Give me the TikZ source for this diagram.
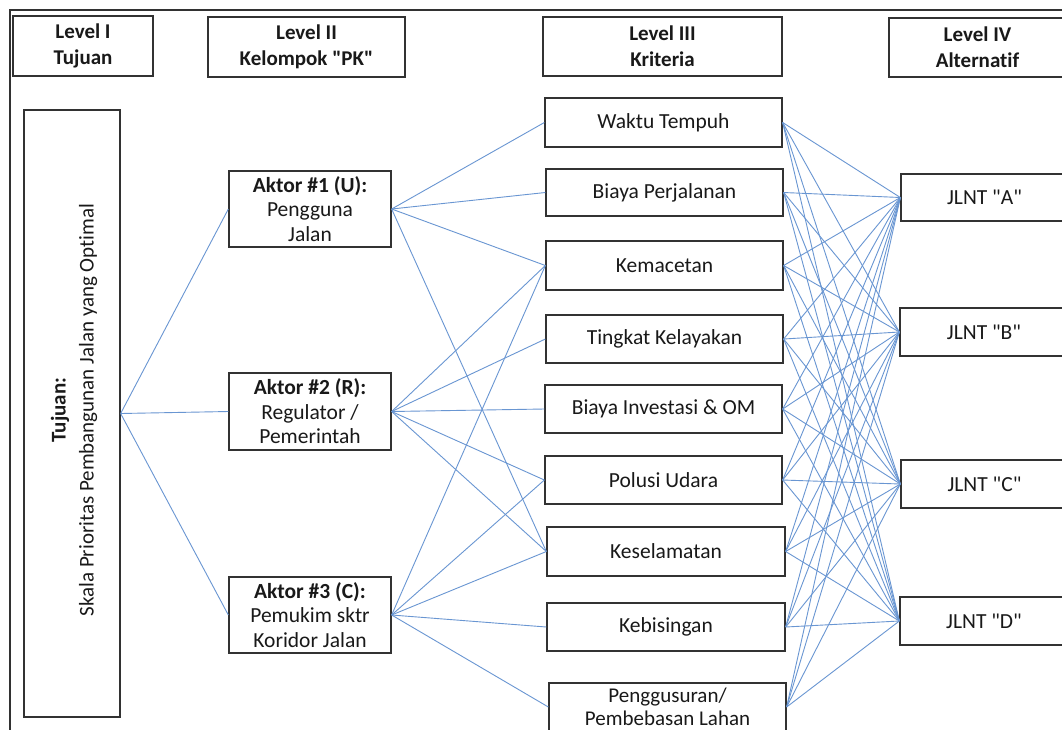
\documentclass[tikz,border=0pt]{standalone}
\usepackage{fontspec}
\setmainfont{Carlito}[Ligatures={TeXOff,CommonOff}]
\definecolor{boxc}{RGB}{50,50,50}
\definecolor{txt}{RGB}{25,25,25}
\definecolor{linkc}{RGB}{105,150,210}
\begin{document}
\begin{tikzpicture}[x=1pt,y=-1pt,
  box/.style={draw=boxc, line width=1.3pt, rectangle, inner sep=0pt, align=center, text=txt, fill=white,
    font=\fontsize{21.5}{24.5}\selectfont},
  head/.style={box, font=\fontsize{21}{26}\selectfont\bfseries},
  link/.style={draw=linkc, line width=0.9pt},
]
\clip (0,0) rectangle (1062,729);
\fill[white] (0,0) rectangle (1062,729);
\draw[boxc, line width=1.6pt] (10,10) rectangle (1100,800);

% level headers
\node[head, minimum width=140pt, minimum height=60pt] (L1) at (83,46) {Level I\\Tujuan};
\node[head, minimum width=197pt, minimum height=60pt] (L2) at (306.5,47) {Level II\\Kelompok "PK"};
\node[head, minimum width=239pt, minimum height=59pt] (L3) at (662.5,46.5) {Level III\\Kriteria};
\node[head, minimum width=177pt, minimum height=59pt] (L4) at (977.5,47.5) {Level IV\\Alternatif};

% level I
\node[box, minimum width=96pt, minimum height=607pt] (T) at (72,413.5) {};
\node[align=center, rotate=90, text=txt, font=\fontsize{21}{28}\selectfont] (Tt) at (74,410)
  {\textbf{Tujuan:}\\Skala Prioritas Pembangunan Jalan yang Optimal};

% level II
\node[box, minimum width=162pt, minimum height=76pt] (A1) at (310,209) {\textbf{Aktor \#1 (U):}\\Pengguna\\Jalan};
\node[box, minimum width=162pt, minimum height=77pt] (A2) at (310,411.5) {\textbf{Aktor \#2 (R):}\\Regulator /\\Pemerintah};
\node[box, minimum width=162pt, minimum height=76pt] (A3) at (310,615) {\textbf{Aktor \#3 (C):}\\Pemukim sktr\\Koridor Jalan};

% level III
\node[box, minimum width=237pt, minimum height=49pt] (K1) at (663.5,122.5) {Waktu Tempuh};
\node[box, minimum width=237pt, minimum height=47pt] (K2) at (664.5,192.5) {Biaya Perjalanan};
\node[box, minimum width=237pt, minimum height=49pt] (K3) at (664.5,265.5) {Kemacetan};
\node[box, minimum width=237pt, minimum height=48pt] (K4) at (664.5,339) {Tingkat Kelayakan};
\node[box, minimum width=237pt, minimum height=48pt] (K5) at (663.5,409) {Biaya Investasi \& OM};
\node[box, minimum width=237pt, minimum height=48pt] (K6) at (663.5,480) {Polusi Udara};
\node[box, minimum width=238pt, minimum height=49pt] (K7) at (666,551.5) {Keselamatan};
\node[box, minimum width=238pt, minimum height=48pt] (K8) at (666,627) {Kebisingan};
\node[box, minimum width=237pt, minimum height=48pt, font=\fontsize{21}{23}\selectfont] (K9) at (667.5,707)
  {\raisebox{3pt}{\parbox{230pt}{\centering Penggusuran/\\Pembebasan Lahan}}};

% level IV
\node[box, minimum width=167pt, minimum height=47pt] (J1) at (984.5,197.5) {JLNT "A"};
\node[box, minimum width=168pt, minimum height=48pt] (J2) at (984,332) {JLNT "B"};
\node[box, minimum width=167pt, minimum height=48pt] (J3) at (984.5,484) {JLNT "C"};
\node[box, minimum width=168pt, minimum height=48pt] (J4) at (984,621) {JLNT "D"};

% links I -> II
\foreach \a in {A1,A2,A3} \draw[link] (T.east) -- (\a.west);
% links II -> III
\foreach \k in {K1,K2,K3,K7} \draw[link] (A1.east) -- (\k.west);
\foreach \k in {K3,K4,K5,K6,K7} \draw[link] (A2.east) -- (\k.west);
\foreach \k in {K3,K6,K7,K8,K9} \draw[link] (A3.east) -- (\k.west);
% links III -> IV
\foreach \k in {K1,K2,K3,K4,K5,K6,K7,K8,K9}
  \foreach \j in {J1,J2,J3,J4}
    \draw[link] (\k.east) -- (\j.west);
\end{tikzpicture}
\end{document}
